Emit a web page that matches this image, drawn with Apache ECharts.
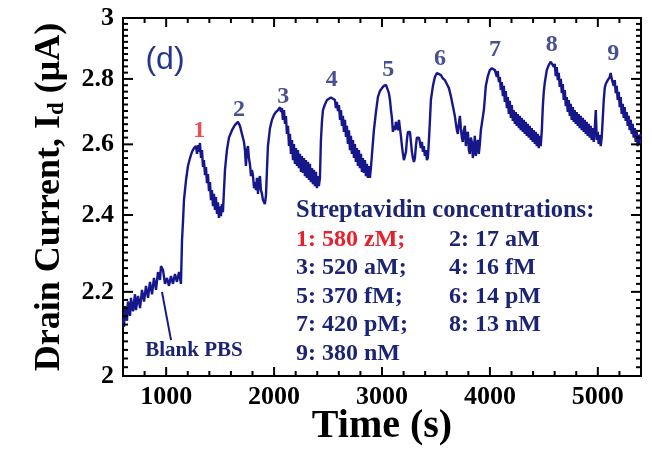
<!DOCTYPE html>
<html><head><meta charset="utf-8">
<script src="https://cdn.jsdelivr.net/npm/echarts@6/dist/echarts.min.js"></script>
<style>html,body{margin:0;padding:0;background:#fff}#c{width:652px;height:456px}</style>
</head><body><div id="c"></div>
<script>
// ---- data ----
const timeS = [600,609,619,637,646,665,674,693,711,720,739,758,776,795,813,832,850,869,887,906,924,943,952,971,989,1008,1026,1045,1063,1082,1100,1119,1137,
1147,1156,1165,1184,1202,1221,1239,1258,1276,1286,1295,1304,1313,1323,1332,1341,1350,1360,1369,1378,1387,1397,1406,1415,1424,1434,1443,1452,1461,1471,1480,1489,1499,1508,1517,1526,
1545,1563,1582,1610,1638,1665,1684,1702,1721,1730,1739,1749,1758,1767,1777,1786,1795,1804,1814,1823,1832,1841,1851,1860,1869,1878,1888,1897,1915,1925,
1934,1943,1962,1980,1999,2017,2036,2055,2064,2073,2082,2092,2101,2110,2119,2129,2138,2147,2156,2166,2175,2184,2193,2203,2212,2221,2230,2240,2249,2258,2267,2277,2286,2295,2304,2314,2323,2332,2341,2351,2360,2369,2378,2388,2397,2406,2415,2425,
2434,2444,2453,2471,2490,2508,2527,2545,2564,2573,2582,2592,2601,2611,2620,2629,2638,2647,2657,2666,2675,2684,2694,2703,2712,2721,2731,2740,2749,2758,2768,2777,2786,2795,2805,2814,2823,2832,2842,2851,2860,2869,2879,2888,2897,2906,
2925,2944,2962,2981,2999,3018,3037,3055,3064,3074,3083,3092,3101,3111,3120,3129,3138,3148,3157,3166,3175,3185,3194,3203,3212,3222,3231,3240,3249,3259,3268,3277,3286,3296,3305,3314,3323,3333,3342,3351,3360,3370,3379,3388,3397,3407,3416,3425,
3435,3444,3453,3472,3490,3509,3527,3546,3564,3583,3601,3620,3638,3657,3675,3685,3694,3703,3712,3722,3731,3740,3749,3759,3768,3777,3786,3796,3805,3814,3823,3833,3842,3851,3860,3870,3879,3888,3897,3907,3916,3925,
3944,3953,3962,3981,3999,4018,4036,4046,4055,4064,4073,4083,4092,4101,4110,4120,4129,4138,4147,4157,4166,4175,4184,4194,4203,4212,4221,4231,4240,4249,4258,4268,4277,4286,4295,4305,4314,4323,4332,4342,4351,4360,4369,4379,4388,4397,4406,4416,4425,4434,4443,4453,4462,4471,
4481,4490,4499,4508,4527,4545,4564,4582,4592,4601,4610,4619,4629,4638,4647,4657,4666,4675,4684,4694,4703,4712,4721,4731,4740,4749,4758,4768,4777,4786,4795,4805,4814,4823,4832,4842,4851,4860,4869,4879,4888,4897,4906,4916,4925,4934,4943,4953,4962,4971,4981,4990,4999,5008,5018,5027,5036,
5045,5055,5064,5073,5092,5110,5119,5129,5138,5147,5157,5166,5175,5184,5194,5203,5212,5221,5231,5240,5249,5258,5268,5277,5286,5295,5305,5314,5323,5332,5342,5351,5360,5369,5379,5388,5397];
const currentUA = [2.134,2.114,2.165,2.129,2.176,2.141,2.185,2.152,2.194,2.155,2.190,2.160,2.205,2.176,2.215,2.185,2.225,2.194,2.235,2.205,2.250,2.230,2.265,2.255,2.220,2.235,2.215,2.240,2.220,2.245,2.225,2.250,2.220,
2.333,2.382,2.441,2.497,2.537,2.560,2.578,2.589,2.595,2.572,2.598,2.578,2.604,2.560,2.583,2.534,2.554,2.511,2.534,2.488,2.514,2.466,2.491,2.441,2.469,2.424,2.458,2.414,2.449,2.403,2.435,2.392,2.424,2.397,2.430,2.408,
2.526,2.583,2.620,2.642,2.658,2.667,2.655,2.631,2.607,2.583,2.537,2.583,2.595,2.560,2.540,2.508,2.526,2.511,2.474,2.491,2.469,2.503,2.458,2.497,2.508,2.469,2.458,2.441,2.430,2.455,
2.526,2.595,2.648,2.673,2.688,2.697,2.703,2.712,2.697,2.709,2.673,2.703,2.661,2.685,2.631,2.655,2.595,2.631,2.572,2.613,2.554,2.601,2.543,2.589,2.537,2.583,2.531,2.572,2.520,2.566,2.517,2.560,2.508,2.554,2.503,2.549,2.497,2.543,2.491,2.531,2.485,2.526,2.480,2.520,2.474,2.508,2.480,2.503,
2.613,2.670,2.703,2.720,2.734,2.739,2.742,2.739,2.734,2.709,2.728,2.700,2.718,2.673,2.703,2.655,2.685,2.637,2.673,2.622,2.655,2.601,2.642,2.583,2.625,2.572,2.613,2.560,2.601,2.549,2.589,2.537,2.583,2.531,2.572,2.520,2.560,2.517,2.554,2.508,2.543,2.503,2.537,2.503,2.531,2.566,
2.642,2.697,2.743,2.762,2.771,2.778,2.781,2.775,2.755,2.734,2.703,2.679,2.637,2.655,2.642,2.667,2.655,2.642,2.673,2.679,2.625,2.595,2.572,2.554,2.549,2.578,2.613,2.637,2.642,2.637,2.607,2.578,2.560,2.549,2.560,2.595,2.620,2.625,2.620,2.607,2.589,2.607,2.578,2.595,2.566,2.583,2.554,2.560,
2.613,2.670,2.734,2.778,2.806,2.819,2.823,2.812,2.802,2.796,2.784,2.771,2.746,2.715,2.685,2.661,2.642,2.631,2.661,2.685,2.648,2.620,2.607,2.642,2.655,2.595,2.628,2.637,2.583,2.572,2.620,2.607,2.560,2.583,2.625,2.566,2.595,2.613,2.572,2.601,2.642,2.661,
2.703,2.739,2.778,2.809,2.828,2.834,2.837,2.828,2.834,2.806,2.825,2.790,2.806,2.765,2.790,2.746,2.778,2.728,2.762,2.709,2.743,2.691,2.731,2.679,2.718,2.670,2.703,2.661,2.697,2.655,2.691,2.648,2.685,2.642,2.679,2.637,2.673,2.631,2.667,2.625,2.661,2.620,2.655,2.613,2.648,2.607,2.642,2.601,2.637,2.595,2.631,2.589,2.625,2.595,
2.642,2.712,2.759,2.787,2.828,2.844,2.855,2.852,2.838,2.848,2.809,2.838,2.796,2.819,2.775,2.800,2.755,2.784,2.734,2.765,2.715,2.743,2.697,2.734,2.685,2.722,2.673,2.712,2.667,2.703,2.661,2.697,2.655,2.691,2.648,2.685,2.642,2.679,2.637,2.673,2.631,2.667,2.625,2.661,2.620,2.655,2.613,2.648,2.607,2.642,2.703,2.613,2.637,2.601,2.628,2.595,2.620,
2.673,2.734,2.771,2.784,2.796,2.806,2.819,2.800,2.806,2.778,2.796,2.755,2.778,2.734,2.759,2.712,2.743,2.691,2.722,2.679,2.712,2.670,2.697,2.655,2.685,2.642,2.673,2.631,2.661,2.620,2.648,2.607,2.637,2.595,2.628,2.601,2.631];

const peakX = [1307,1675,2085,2534,3058,3537,4047,4572,5143];
const peakY = [2.640,2.703,2.744,2.796,2.828,2.866,2.895,2.910,2.882];
const peakLabels = ['1','2','3','4','5','6','7','8','9'];

const xMajor = [1000,2000,3000,4000,5000];
const yMajor = [2,2.2,2.4,2.6,2.8,3];
const X_MIN = 600, X_MAX = 5400, Y_MIN = 2, Y_MAX = 3;
const xTicks = []; for (let v = X_MIN; v <= X_MAX; v += 200) xTicks.push(v);
const yTicks = []; for (let k = 0; k <= 50; k++) yTicks.push(+(Y_MIN + k*0.02).toFixed(2));

const legendTitle = 'Streptavidin concentrations:';
const legendLeft = ['1: 580 zM;','3: 520 aM;','5: 370 fM;','7: 420 pM;','9: 380 nM'];
const legendRight = ['2: 17 aM','4: 16 fM','6: 14 pM','8: 13 nM'];

const arrowFrom = [1045, 2.083];
const arrowTo = [961, 2.200];

// ---- styles ----
const NAVY = '#16178a';
const TXT = '#1c2475';
const RED = '#e8202a';
const SERIF = '"Liberation Serif","Times New Roman",serif';

function xAx(pos, withLabel) {
  return {type:'value', min:X_MIN, max:X_MAX, interval:200, position:pos,
   axisLine:{show:true, lineStyle:{color:'#000', width:2}},
   axisTick:{show:false},
   axisLabel: withLabel ? {show:true, fontSize:26, fontWeight:'bold', fontFamily:SERIF, color:'#000', margin:8,
     formatter: v => (xMajor.indexOf(v) >= 0 ? String(v) : '')} : {show:false},
   splitLine:{show:false}};
}
function yAx(pos, withLabel) {
  return {type:'log', logBase:10, min:Y_MIN, max:Y_MAX, position:pos,
   axisLine:{show:true, lineStyle:{color:'#000', width:2}},
   axisTick:{show:false},
   axisLabel: withLabel ? {show:true, customValues:yMajor, fontSize:26, fontWeight:'bold', fontFamily:SERIF, color:'#000', margin:9,
     formatter: v => String(+(+v).toFixed(1))} : {show:false},
   splitLine:{show:false}};
}
const xBottom = xAx('bottom', true);
Object.assign(xBottom, {name:'Time (s)', nameLocation:'middle', nameGap:31, nameMoveOverlap:false,
   nameTextStyle:{fontSize:40, fontWeight:'bold', fontFamily:SERIF, color:'#000'}});
const yLeft = yAx('left', true);
Object.assign(yLeft, {name:'{a|Drain Current, I}{s|d}{a| (μA)}', nameLocation:'middle', nameRotate:90, nameGap:54,
   nameTextStyle:{color:'#000', rich:{
     a:{fontSize:36, fontWeight:'bold', fontFamily:SERIF, color:'#000', lineHeight:38},
     s:{fontSize:23, fontWeight:'bold', fontFamily:SERIF, color:'#000', lineHeight:26, verticalAlign:'bottom'}
   }}});

const lineData = timeS.map((t,i) => [t, currentUA[i]]);
const peakData = peakX.map((x,i) => ({value:[x, peakY[i]], label:{color: i===0 ? RED : TXT}}));

const graphics = [
  {type:'text', x:165, y:60, style:{text:'(d)', font:'32px "Liberation Sans",Arial,sans-serif', fill:'#26368c', textAlign:'center', textVerticalAlign:'middle', align:'center', verticalAlign:'middle'}},
  {type:'text', x:194, y:351, style:{text:'Blank PBS', font:'bold 21px '+SERIF, fill:TXT, textAlign:'center', textVerticalAlign:'middle', align:'center', verticalAlign:'middle'}},
  {type:'text', x:296, y:211, style:{text:legendTitle, font:'bold 24.5px '+SERIF, fill:TXT, textVerticalAlign:'middle', verticalAlign:'middle'}}
];
const rowY = [240, 268, 297, 325, 354];
legendLeft.forEach((t,i) => graphics.push({type:'text', x:296, y:rowY[i], style:{text:t, font:'bold 24px '+SERIF, fill: i===0 ? RED : TXT, textVerticalAlign:'middle', verticalAlign:'middle'}}));
legendRight.forEach((t,i) => graphics.push({type:'text', x:449, y:rowY[i], style:{text:t, font:'bold 24px '+SERIF, fill:TXT, textVerticalAlign:'middle', verticalAlign:'middle'}}));

const chart = echarts.init(document.getElementById('c'), null, {renderer:'canvas'});
chart.setOption({
  animation:false,
  grid:{left:123, right:11, top:18, bottom:80, outerBoundsMode:'none',
        show:true, borderColor:'#000', borderWidth:2},
  xAxis:[xBottom, xAx('top', false)],
  yAxis:[yLeft, yAx('right', false)],
  series:[
    {type:'line', data:lineData, showSymbol:false, symbol:'none',
     lineStyle:{color:NAVY, width:2.4},
     markLine:{silent:true, symbol:['none','none'], label:{show:false},
       lineStyle:{color:NAVY, width:2, type:'solid'},
       data:[[{coord:arrowFrom},{coord:arrowTo}]]}},
    {type:'scatter', symbolSize:2, itemStyle:{color:'rgba(0,0,0,0)'}, data:peakData, silent:true,
     label:{show:true, position:'inside', formatter: p => peakLabels[p.dataIndex], fontSize:24, fontWeight:'bold', fontFamily:SERIF}}
  ],
  graphic:graphics
});

// tick marks: positions come from the chart's own axis scales (convertToPixel)
const finder = {xAxisIndex:0, yAxisIndex:0};
const tickEls = [];
xTicks.forEach(v => {
  const len = xMajor.indexOf(v) >= 0 ? 9 : 5;
  const b = chart.convertToPixel(finder, [v, Y_MIN]);
  const t = chart.convertToPixel(finder, [v, Y_MAX]);
  tickEls.push({type:'rect', silent:true, z:10, shape:{x:b[0]-1, y:b[1]-len, width:2, height:len}, style:{fill:'#000'}});
  tickEls.push({type:'rect', silent:true, z:10, shape:{x:t[0]-1, y:t[1], width:2, height:len}, style:{fill:'#000'}});
});
yTicks.forEach(v => {
  const len = Math.abs(v*5 - Math.round(v*5)) < 1e-6 ? 10 : 5;
  const l = chart.convertToPixel(finder, [X_MIN, v]);
  const r = chart.convertToPixel(finder, [X_MAX, v]);
  tickEls.push({type:'rect', silent:true, z:10, shape:{x:l[0], y:l[1]-1, width:len, height:2}, style:{fill:'#000'}});
  tickEls.push({type:'rect', silent:true, z:10, shape:{x:r[0]-len, y:r[1]-1, width:len, height:2}, style:{fill:'#000'}});
});
chart.setOption({graphic: graphics.concat(tickEls)});
</script></body></html>
